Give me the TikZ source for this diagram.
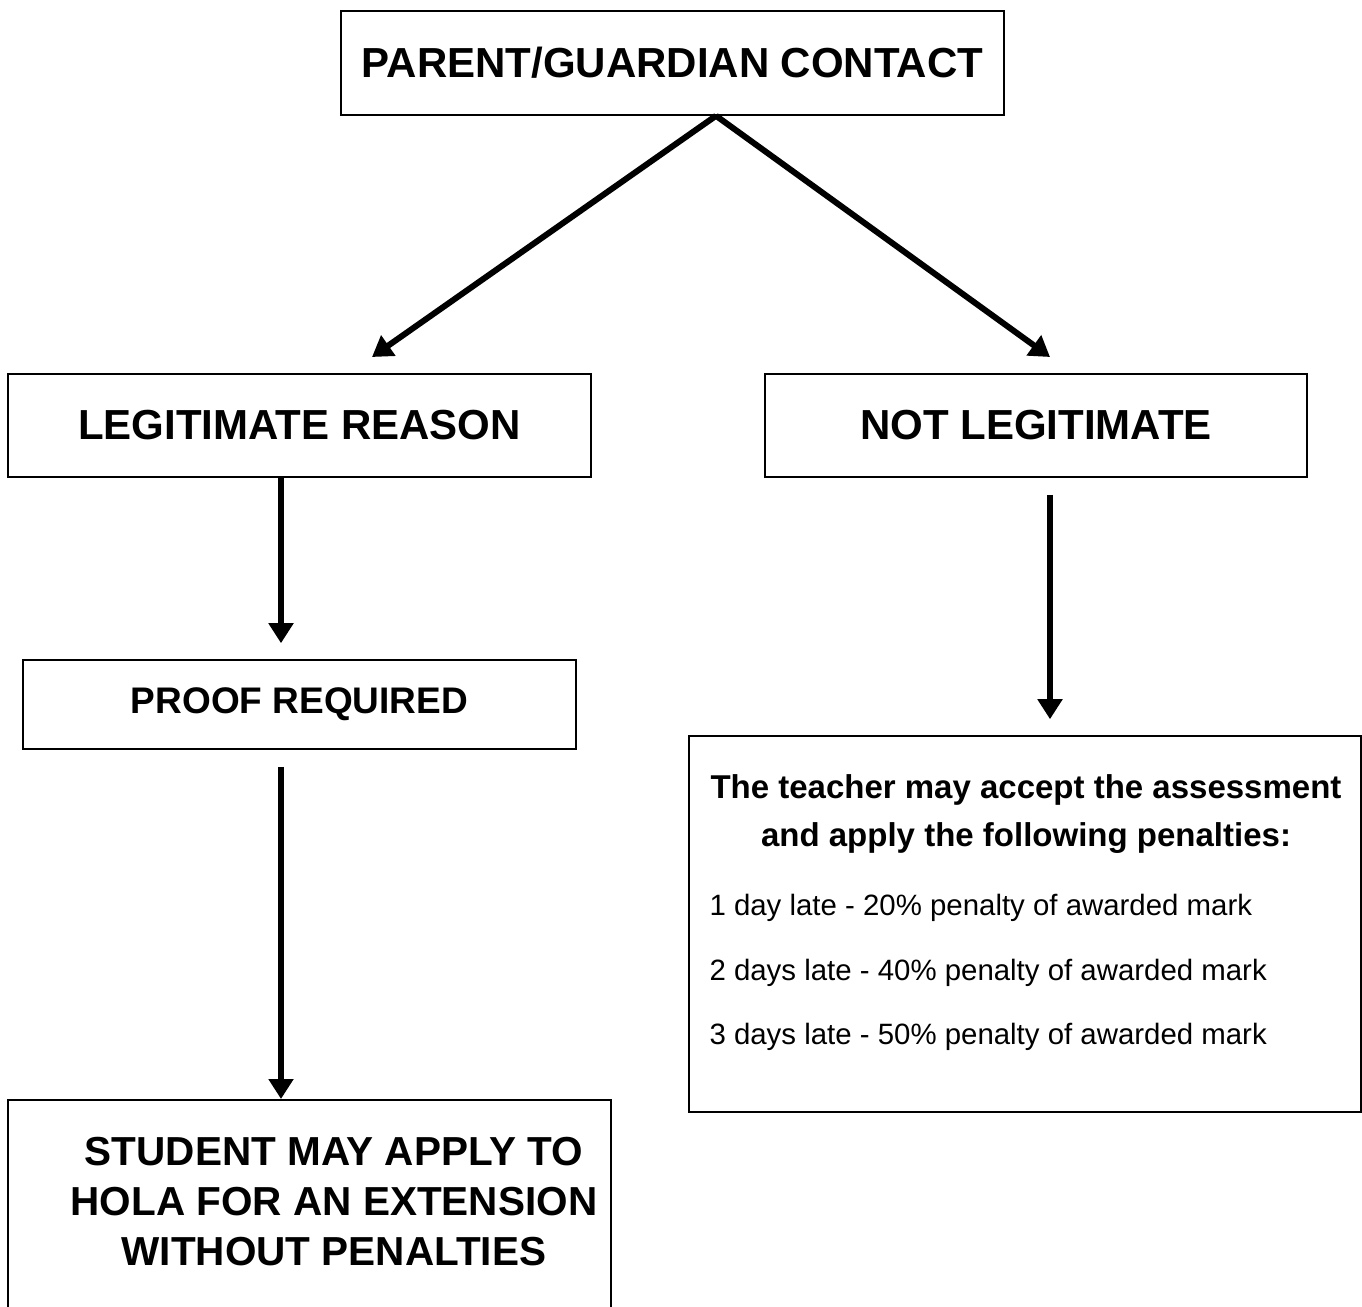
\documentclass[tikz,border=0pt]{standalone}
\usepackage{fontspec}
\setmainfont{Liberation Sans}
\usetikzlibrary{arrows.meta,calc,positioning}
\tikzset{
	box/.style={draw, line width=1.6pt, inner sep=0pt},
	heading/.style={font=\bfseries\fontsize{42}{50}\selectfont},
	arr/.style={line width=6pt, -{Triangle[length=20pt,width=24pt]}}
}
\begin{document}
\begin{tikzpicture}[x=1pt,y=-1pt]
		\useasboundingbox (0,0) rectangle (1362,1306);
		\node[box, heading, minimum width=663pt, minimum height=104pt] (contact) at (672.5,63) {PARENT/GUARDIAN CONTACT};
		\node[box, heading, minimum width=583pt, minimum height=103pt] (legit) at (299.5,425.5) {LEGITIMATE REASON};
		\node[box, heading, minimum width=542pt, minimum height=103pt] (notlegit) at (1036,425.5) {NOT LEGITIMATE};
		\node[box, font=\bfseries\fontsize{37}{44}\selectfont, minimum width=553pt, minimum height=89pt] (proof) at (299.5,704.5) {PROOF REQUIRED};
		\node[box, minimum width=672pt, minimum height=376pt] (penalty) at (1025,924) {};
		\node[box, minimum width=603pt, minimum height=240pt, anchor=north] (student) at (309.5,1099) {};
		\node[align=center, font=\bfseries\fontsize{33}{48}\selectfont] (penaltitle) at (1026,814) {The teacher may accept the assessment\\and apply the following penalties:};
		\foreach \n/\days/\pct/\y in {1/day/20/908, 2/days/40/973, 3/days/50/1037}
			\node[anchor=west, font=\fontsize{29.4}{35}\selectfont] (late\n) at (706,\y) {\n\ \days\ late - \pct\% penalty of awarded mark};
		\node[align=center, font=\bfseries\fontsize{40.5}{50}\selectfont] (studenttext) at (334,1202) {STUDENT MAY APPLY TO\\HOLA FOR AN EXTENSION\\WITHOUT PENALTIES};
		\coordinate (fork) at ($(contact.south)+(43.5,0)$);
		\coordinate (ltip) at (372,357);
		\coordinate (rtip) at (1050,357);
		\draw[arr] (fork) -- (ltip);
		\draw[arr] (fork) -- (rtip);
		\draw[arr] ([xshift=-18.5pt]legit.south) -- ([xshift=-18.5pt,yshift=16pt]proof.north);
		\draw[arr] ([xshift=14pt,yshift=-17pt]notlegit.south) -- ([xshift=25pt,yshift=16pt]penalty.north);
		\draw[arr] ([xshift=-18.5pt,yshift=-17pt]proof.south) -- ([xshift=-28.5pt]student.north);
\end{tikzpicture}
\end{document}
